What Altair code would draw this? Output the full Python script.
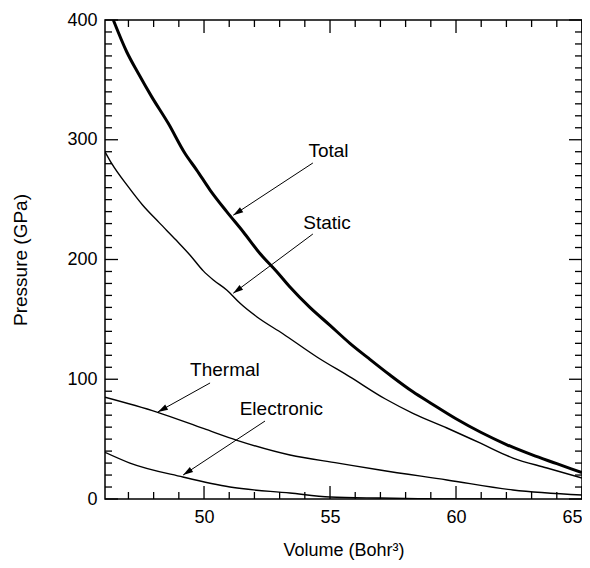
import math
import altair as alt
import pandas as pd

# ---- data ----
total_v = [46.40, 46.93, 47.39, 47.92, 48.58, 49.24, 49.71, 50.24, 50.9, 51.56, 52.22, 52.88,
           53.41, 54.2, 55.0, 55.79, 56.5, 57.38, 58.29, 59.0, 60.0, 61.0, 62.0, 63.0, 64.0, 65.0]
total_p = [400, 373.5, 355.5, 336, 313.7, 288.7, 274.7, 258, 240, 223, 205, 190,
           177, 160, 145, 130, 118, 103.5, 89.5, 80, 67, 55.5, 45.5, 37, 29.5, 22]

static_v = [46.07, 46.34, 46.99, 47.56, 48.22, 48.9, 49.44, 49.97, 50.37, 50.9, 51.43, 52.09,
            53.13, 54.48, 55.79, 57.2, 58.29, 59.64, 60.95, 62.26, 63.61, 65.0]
static_p = [290, 280, 260.8, 245.5, 230.8, 216, 203.8, 190.5, 182.9, 174.5, 163.4, 152.2,
            138, 118.6, 102, 83.5, 71.6, 59.3, 46.8, 34.2, 25.9, 17.5]

thermal_v = [46.07, 48.13, 50.0, 51.31, 53.41, 55.32, 56.98, 59.64, 62.26, 65.0]
thermal_p = [85, 72.6, 58.7, 49, 36.7, 30, 24.2, 15.9, 7.5, 3.3]

electronic_v = [46.07, 47.06, 49.16, 51.03, 53.41, 55.0, 57.0, 58.5, 60.0, 62.0]
electronic_p = [39, 30, 18.4, 10, 5, 1.7, 0.8, 0.3, 0, 0]

label_text = ["Total", "Static", "Thermal", "Electronic"]
label_v = [54.94, 54.88, 50.83, 53.07]
label_p = [290.6, 230.5, 107.7, 75.2]

arrow_start_v = [54.32, 54.32, 50.24, 52.42]
arrow_start_p = [280.6, 221.3, 96.9, 65.1]
arrow_tip_v = [51.16, 51.16, 48.17, 49.17]
arrow_tip_p = [237.0, 171.8, 72.7, 20.0]

x_major = [50, 55, 60, 65]
x_minor = [47, 48, 49, 51, 52, 53, 54, 56, 57, 58, 59, 61, 62, 63, 64]
y_major = [0, 100, 200, 300, 400]
y_minor = [v for v in range(10, 400, 10) if v % 100 != 0]

# ---- layout ----
X_MIN, X_MAX = 46.07, 65.0
Y_MIN, Y_MAX = 0, 400
W, H = 477, 479
FONT = "Liberation Sans"

xs = alt.Scale(domain=[X_MIN, X_MAX], nice=False, zero=False)
ys = alt.Scale(domain=[Y_MIN, Y_MAX], nice=False, zero=False)

x_axis = alt.Axis(values=x_major, ticks=False, tickSize=0, domain=False, grid=False,
                  labelFontSize=18, labelPadding=9, labelFlush=True, labelColor="black",
                  labelFont=FONT, title="Volume (Bohr³)", titleFontSize=18,
                  titleFontWeight="normal", titleFont=FONT, titleColor="black",
                  titlePadding=15)
y_axis = alt.Axis(values=y_major, ticks=False, tickSize=0, domain=False, grid=False,
                  labelFontSize=18, labelPadding=8, labelColor="black", labelFont=FONT,
                  title="Pressure (GPa)", titleFontSize=19, titleFontWeight="normal",
                  titleFont=FONT, titleColor="black", titlePadding=36)


def X(field):
    return alt.X(field, scale=xs, axis=x_axis, title="Volume (Bohr³)")


def Y(field):
    return alt.Y(field, scale=ys, axis=y_axis, title="Pressure (GPa)")


def curve(v, p, width):
    df = pd.DataFrame({"v": v, "p": p, "o": list(range(len(v)))})
    return alt.Chart(df).mark_line(color="black", strokeWidth=width, clip=True,
                                   interpolate="monotone").encode(
        x=X("v:Q"), y=Y("p:Q"), order="o:Q",
    )


layers = [
    curve(static_v, static_p, 1.4),
    curve(thermal_v, thermal_p, 1.4),
    curve(electronic_v, electronic_p, 1.4),
    curve(total_v, total_p, 3.0),
]

# ---- inward ticks on all four sides ----
def xticks(vals, length):
    df = pd.DataFrame({"v": vals})
    base = alt.Chart(df).mark_rule(color="black", strokeWidth=1.3)
    bottom = base.encode(x=X("v:Q"), y=alt.value(H), y2=alt.value(H - length))
    top = base.encode(x=X("v:Q"), y=alt.value(0), y2=alt.value(length))
    return [bottom, top]


def yticks(vals, length):
    df = pd.DataFrame({"p": vals})
    base = alt.Chart(df).mark_rule(color="black", strokeWidth=1.3)
    left = base.encode(y=Y("p:Q"), x=alt.value(0), x2=alt.value(length))
    right = base.encode(y=Y("p:Q"), x=alt.value(W), x2=alt.value(W - length))
    return [left, right]


layers += xticks(x_major, 13) + xticks(x_minor, 7) + yticks(y_major, 13) + yticks(y_minor, 7)

# ---- labels and arrows ----
lab_df = pd.DataFrame({"v": label_v, "p": label_p, "t": label_text})
layers.append(
    alt.Chart(lab_df).mark_text(fontSize=19, font=FONT, color="black", align="center",
                                baseline="middle").encode(
        x=X("v:Q"), y=Y("p:Q"), text="t:N")
)

sx = W / (X_MAX - X_MIN)
sy = H / (Y_MAX - Y_MIN)
angles = []
for a, b, c, d in zip(arrow_start_v, arrow_start_p, arrow_tip_v, arrow_tip_p):
    dx = (c - a) * sx
    dy = -(d - b) * sy
    angles.append(math.degrees(math.atan2(dx, -dy)) % 360)

arr_df = pd.DataFrame({"v": arrow_start_v, "p": arrow_start_p, "v2": arrow_tip_v,
                       "p2": arrow_tip_p, "ang": angles})
layers.append(
    alt.Chart(arr_df).mark_rule(color="black", strokeWidth=1.0).encode(
        x=X("v:Q"), y=Y("p:Q"), x2="v2:Q", y2="p2:Q")
)
layers.append(
    alt.Chart(arr_df).mark_point(shape="M0,0 L-0.6,2 L0.6,2 Z", filled=True, size=100,
                                 color="black", opacity=1, strokeWidth=0).encode(
        x=X("v2:Q"), y=Y("p2:Q"), angle=alt.Angle("ang:Q", scale=None))
)

chart = alt.layer(*layers).properties(
    width=W, height=H,
    autosize=alt.AutoSizeParams(type="none"),
    padding={"left": 97, "top": 12, "right": 0, "bottom": 61},
    background="white",
).configure_view(stroke="black", strokeWidth=1.5)

chart.save("out.html", embed_options={"renderer": "svg", "actions": False})
